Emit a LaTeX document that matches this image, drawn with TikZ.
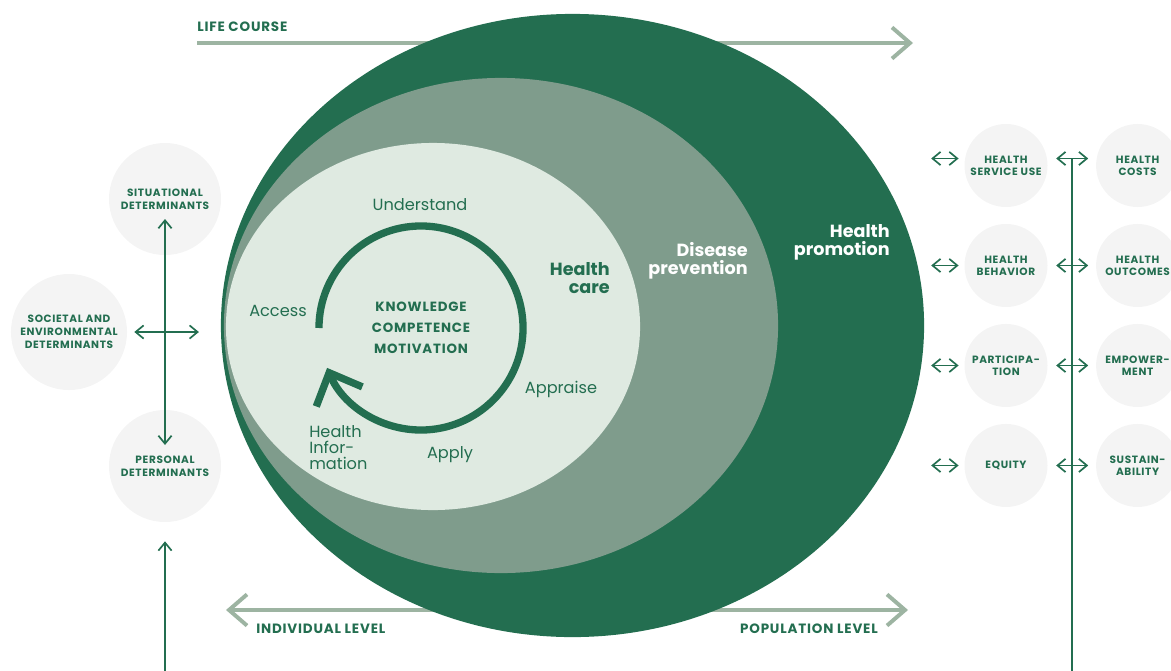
\documentclass[tikz,border=0pt]{standalone}
\usepackage{fontspec}
\setmainfont{Poppins}
\newfontfamily\capsfont[LetterSpace=6]{Poppins}
\usetikzlibrary{arrows.meta,positioning,shapes.geometric}

\definecolor{hlgreen}{HTML}{236E50}
\definecolor{hlsage}{HTML}{7F9C8C}
\definecolor{hlmint}{HTML}{DFEAE1}
\definecolor{hlline}{HTML}{9DB4A2}
\definecolor{hlgrey}{HTML}{F4F4F4}

\begin{document}
\begin{tikzpicture}[
    x=0.025cm, y=0.025cm,
    blob/.style={ellipse, inner sep=0pt, outer sep=0pt},
    factor/.style={circle, fill=hlgrey, inner sep=0pt, align=center, text=hlgreen,
        font=\capsfont\bfseries\fontsize{7.5}{9.2}\selectfont},
    outcome/.style={factor, minimum size=2.075cm, font=\capsfont\bfseries\fontsize{7.5}{8.6}\selectfont},
    zone/.style={inner sep=0pt, align=right, font=\bfseries\fontsize{12.5}{12.8}\selectfont},
    cyclabel/.style={inner sep=0pt, text=hlgreen, font=\fontsize{11.5}{11.4}\selectfont},
    core/.style={inner sep=0pt, align=center, text=hlgreen, font=\capsfont\bfseries\fontsize{9.5}{14.9}\selectfont},
    axislabel/.style={inner sep=0pt, text=hlgreen, font=\capsfont\bfseries\fontsize{9.6}{11}\selectfont},
    course/.style={draw=hlline, line width=2.8pt, >={Straight Barb[length=4.5mm,width=7.8mm]}},
    pair/.style={draw=hlgreen, line width=1.2pt, >={Straight Barb[length=2mm,width=3.3mm]}, <->},
    loopring/.style={draw=hlgreen, line width=5.2pt, -{Straight Barb[length=6.5mm,width=12.5mm]}}
]
\useasboundingbox (0,0) rectangle (1171,-671);

% axes behind the ellipses
\coordinate (lc-start) at (197,-43);
\coordinate (lc-end) at (913,-43);
\draw[course, ->] (lc-start) -- (lc-end);
\node[axislabel, anchor=west] (lifecourse) at (197,-27) {LIFE COURSE};

\coordinate (ind-end) at (226,-610);
\coordinate (pop-end) at (908,-610);
\draw[course, <->] (ind-end) -- (pop-end);
\node[axislabel, anchor=west] (individual) at (256,-629) {INDIVIDUAL LEVEL};
\node[axislabel, anchor=east] (population) at (878,-629) {POPULATION LEVEL};

% nested fields
\node[blob, fill=hlgreen, minimum width=17.575cm, minimum height=15.575cm] (promotion) at (572.5,-325.5) {};
\node[blob, fill=hlsage, minimum width=13.85cm, minimum height=12.375cm] (prevention) at (501,-325.5) {};
\node[blob, fill=hlmint, minimum width=10.35cm, minimum height=9.175cm] (care) at (433,-326.5) {};

\node[zone, anchor=east, text=white] (promo-label) at (890,-242) {Health\\promotion};
\node[zone, anchor=east, text=white] (prev-label) at (748,-260.5) {Disease\\prevention};
\node[zone, anchor=east, text=hlgreen] (care-label) at (610,-278) {Health\\care};

% health literacy cycle
\node[core] (core) at (421,-328) {KNOWLEDGE\\COMPETENCE\\MOTIVATION};
\draw[loopring] ([xshift=-2.55cm]core.center) arc[start angle=180, end angle=-157, radius=2.55cm];

\node[cyclabel] (understand) at (420,-205) {Understand};
\node[cyclabel] (access) at (278,-311) {Access};
\node[cyclabel] (appraise) at (561,-389) {Appraise};
\node[cyclabel] (apply) at (450,-455) {Apply};
\node[cyclabel, anchor=west, align=left] (info) at (309,-448) {Health\\Infor-\\mation};

% determinants
\node[factor, minimum size=2.8cm] (situational) at (165,-199) {SITUATIONAL\\DETERMINANTS};
\node[factor, minimum size=2.9cm] (societal) at (69,-332) {SOCIETAL AND\\ENVIRONMENTAL\\DETERMINANTS};
\node[factor, minimum size=2.8cm] (personal) at (165,-466) {PERSONAL\\DETERMINANTS};

\coordinate (field-edge) at ([xshift=-0.55cm]promotion.west);
\draw[pair] ([yshift=-0.5cm]situational.center) -- ([yshift=0.525cm]personal.center);
\draw[pair] ([xshift=0.175cm]societal.east) -- (field-edge |- societal.east);
\coordinate (base) at (165,-671);
\draw[pair, ->] (base) -- ([yshift=-0.475cm]personal.south);

% outcomes
\node[outcome] (serviceuse) at (1006,-165.5) {HEALTH\\SERVICE USE};
\node[outcome, below=0.41cm of serviceuse] (behavior) {HEALTH\\BEHAVIOR};
\node[outcome, below=0.41cm of behavior] (participation) {PARTICIPA-\\TION};
\node[outcome, below=0.41cm of participation] (equity) {EQUITY};
\node[outcome, right=1.2cm of serviceuse] (costs) {HEALTH\\COSTS};
\node[outcome, right=1.2cm of behavior] (outcomes) {HEALTH\\OUTCOMES};
\node[outcome, right=1.2cm of participation] (empowerment) {EMPOWER-\\MENT};
\node[outcome, right=1.2cm of equity] (sustainability) {SUSTAIN-\\ABILITY};

\draw[pair] ([xshift=-0.825cm,yshift=0.175cm]serviceuse.west) -- ([xshift=-0.14cm,yshift=0.175cm]serviceuse.west);
\draw[pair] ([xshift=-0.825cm]behavior.west) -- ([xshift=-0.14cm]behavior.west);
\draw[pair] ([xshift=-0.825cm]participation.west) -- ([xshift=-0.14cm]participation.west);
\draw[pair] ([xshift=-0.825cm]equity.west) -- ([xshift=-0.14cm]equity.west);

\path ([yshift=0.175cm]serviceuse.east) -- ([yshift=0.175cm]costs.west) coordinate[pos=0.5] (spine);
\draw[hlgreen, line width=1.2pt] (spine) -- (spine |- base);

\draw[pair] ([xshift=0.21cm,yshift=0.175cm]serviceuse.east) -- ([xshift=-0.19cm,yshift=0.175cm]costs.west);
\draw[pair] ([xshift=0.21cm]behavior.east) -- ([xshift=-0.19cm]outcomes.west);
\draw[pair] ([xshift=0.21cm]participation.east) -- ([xshift=-0.19cm]empowerment.west);
\draw[pair] ([xshift=0.21cm]equity.east) -- ([xshift=-0.19cm]sustainability.west);
\end{tikzpicture}
\end{document}
